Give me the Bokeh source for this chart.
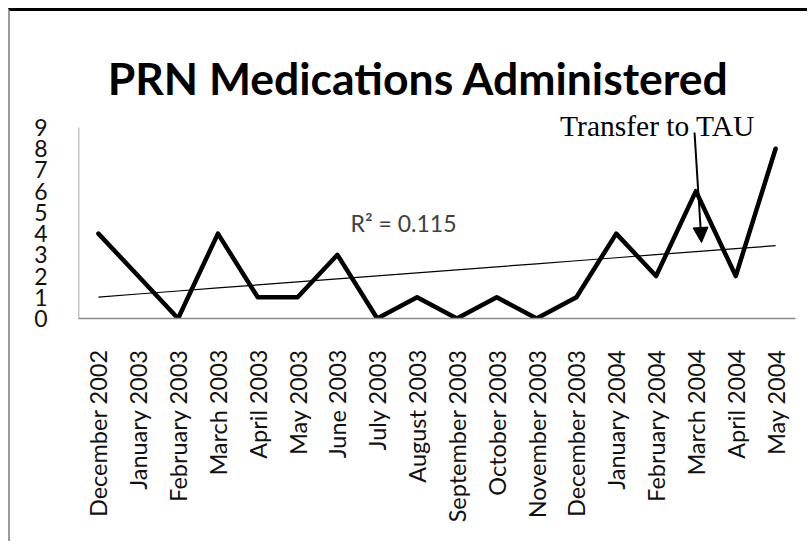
import numpy as np
from bokeh.plotting import figure
from bokeh.models import (Range1d, FactorRange, FixedTicker, Label, Arrow, NormalHead)
from bokeh.embed import file_html
from bokeh.resources import INLINE

# ---- data ----
months = ["December 2002", "January 2003", "February 2003", "March 2003",
          "April 2003", "May 2003", "June 2003", "July 2003", "August 2003",
          "September 2003", "October 2003", "November 2003", "December 2003",
          "January 2004", "February 2004", "March 2004", "April 2004", "May 2004"]
prn_counts = [4, 2, 0, 4, 1, 1, 3, 0, 1, 0, 1, 0, 1, 4, 2, 6, 2, 8]
y_ticks = [0, 1, 2, 3, 4, 5, 6, 7, 8, 9]
title_text = "PRN Medications Administered"
annotation_text = "Transfer to TAU"

# linear trend (least squares) derived from the data
xi = np.arange(len(prn_counts))
slope, intercept = np.polyfit(xi, prn_counts, 1)
trend = slope * xi + intercept
yarr = np.array(prn_counts, dtype=float)
r2 = 1 - np.sum((yarr - trend) ** 2) / np.sum((yarr - yarr.mean()) ** 2)

W, H = 799, 533
FL, FR, FB = 68, 785, 307
Y9 = 116  # pixel row (in figure) of the axis maximum
ymax = y_ticks[-1] * FB / (FB - Y9)

p = figure(width=W, height=H, x_range=FactorRange(*months, range_padding=0),
           y_range=Range1d(0, ymax), output_backend="svg", toolbar_location=None,
           min_border_left=FL, min_border_right=W - FR, min_border_top=0,
           min_border_bottom=H - FB)
p.styles = {"border-top": "3px solid #000000", "border-left": "2px solid #9a9a9a",
            "margin-left": "8px", "margin-top": "8px"}
p.outline_line_color = None
p.xgrid.grid_line_color = None
p.ygrid.grid_line_color = None
p.background_fill_color = "white"
p.border_fill_color = "white"

font = "Lato"
# y axis
p.yaxis.ticker = FixedTicker(ticks=y_ticks)
p.yaxis.major_tick_line_color = None
p.yaxis.minor_tick_line_color = None
p.yaxis.axis_line_color = None
p.yaxis.major_label_text_font = font
p.yaxis.major_label_text_font_size = "23px"
p.yaxis.major_label_text_color = "#111111"
p.yaxis.major_label_standoff = 25
# visible part of the vertical axis (0..9)
p.segment(x0=[0], y0=[y_ticks[0]], x1=[0], y1=[y_ticks[-1]],
          line_color="#8a8a8a", line_width=1.5)

# x axis
p.xaxis.major_tick_line_color = None
p.xaxis.minor_tick_line_color = None
p.xaxis.axis_line_color = "#8a8a8a"
p.xaxis.axis_line_width = 1.5
p.xaxis.major_label_orientation = np.pi / 2
p.xaxis.major_label_text_font = font
p.xaxis.major_label_text_font_size = "23.5px"
p.xaxis.major_label_text_color = "#111111"
p.xaxis.major_label_standoff = 25

# series
p.line(months, prn_counts, line_color="black", line_width=4.5, line_join="round",
       line_cap="round")
p.line(months, list(trend), line_color="black", line_width=1.2)

# R^2 label
p.add_layout(Label(x=325, y=96, x_units="screen", y_units="screen",
                   text="R\u00b2 = %.3f" % r2, text_font=font, text_font_size="23px",
                   text_color="#404040", text_align="center", text_baseline="middle"))

# title
p.add_layout(Label(x=340, y=241, x_units="screen", y_units="screen",
                   text=title_text, text_font=font, text_font_style="bold",
                   text_font_size="44.5px", text_color="black", text_align="center",
                   text_baseline="alphabetic"))

# annotation
p.add_layout(Label(x=579, y=193, x_units="screen", y_units="screen",
                   text=annotation_text, text_font="Liberation Serif",
                   text_font_size="29.5px", text_color="black", text_align="center",
                   text_baseline="alphabetic"))
p.add_layout(Arrow(x_start=616, y_start=186, x_end=623, y_end=76,
                   start_units="screen", end_units="screen",
                   line_color="black", line_width=2,
                   end=NormalHead(size=15, fill_color="black", line_color="black")))

open("out.html", "w").write(file_html(p, INLINE))
